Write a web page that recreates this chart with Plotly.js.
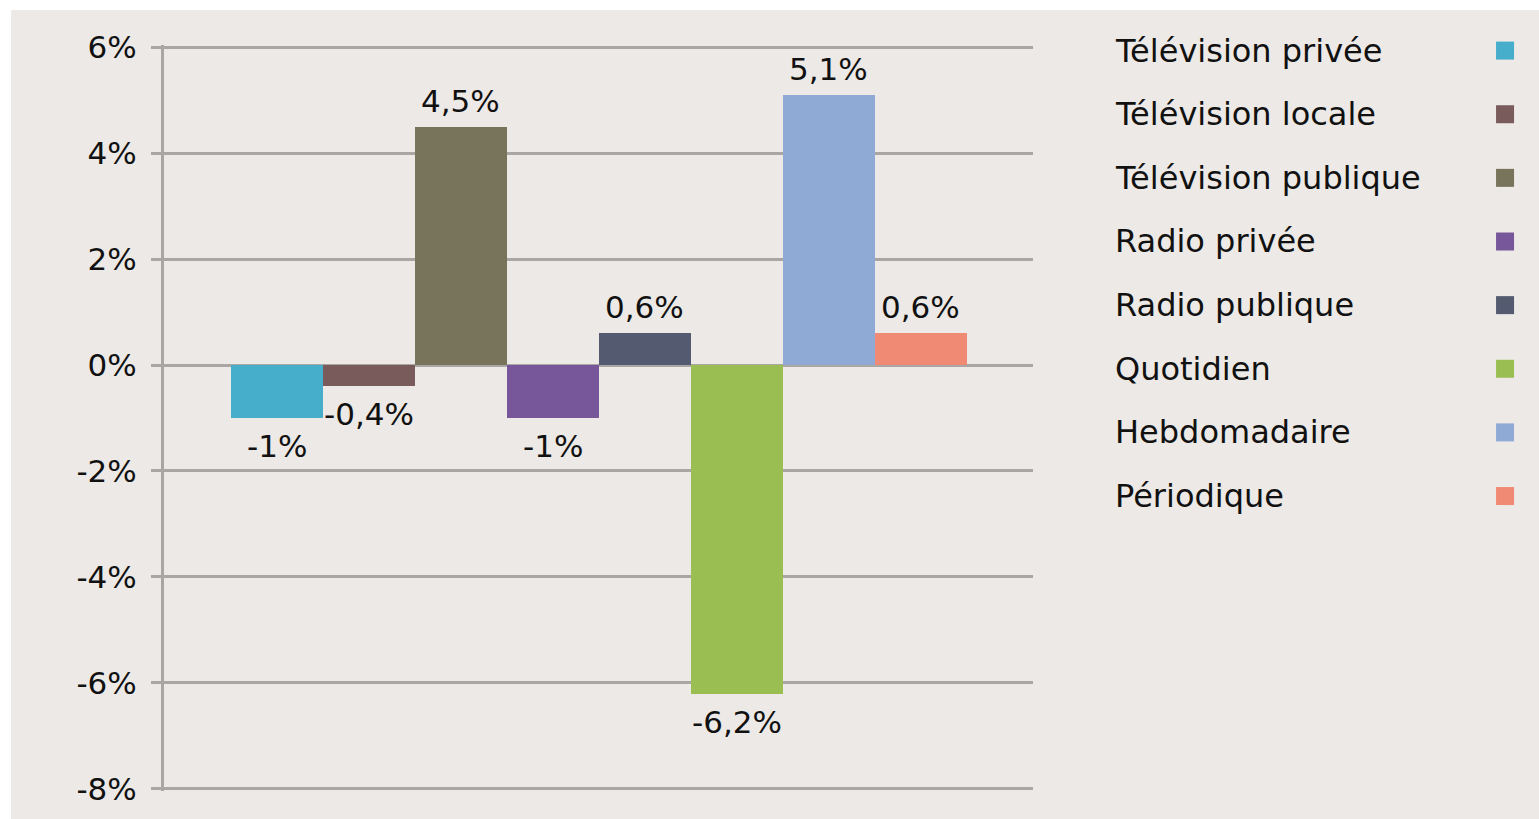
<!DOCTYPE html>
<html>
<head>
<meta charset="utf-8">
<script src="https://cdn.plot.ly/plotly-3.0.1.min.js"></script>
<style>
  body { margin: 0; background: #ffffff; }
  #chart { position: absolute; left: 11px; top: 10px; width: 1528px; height: 809px; }
</style>
</head>
<body>
<div id="chart"></div>
<script>
const media = ['Télévision privée', 'Télévision locale', 'Télévision publique', 'Radio privée',
    'Radio publique', 'Quotidien', 'Hebdomadaire', 'Périodique'];
const changes = [-1, -0.4, 4.5, -1, 0.6, -6.2, 5.1, 0.6];
const changeLabels = ['-1%', '-0,4%', '4,5%', '-1%', '0,6%', '-6,2%', '5,1%', '0,6%'];
const colors = ['#46adca', '#7a5b5c', '#77745b', '#78569a', '#545b71', '#9bbe52', '#90aad6', '#f08a74'];
const tickValues = [6, 4, 2, 0, -2, -4, -6, -8];
const tickLabels = ['6%', '4%', '2%', '0%', '-2%', '-4%', '-6%', '-8%'];

const gridColor = '#a9a6a3';
const font = 'DejaVu Sans, Arial, sans-serif';

const bars = {
    type: 'bar',
    x: media,
    y: changes,
    marker: {color: colors},
    hoverinfo: 'skip'
};

// value labels above / below each bar
const annotations = media.map((name, i) => ({
    xref: 'x', yref: 'y', x: name, y: changes[i],
    xanchor: 'center', yanchor: changes[i] >= 0 ? 'bottom' : 'top',
    yshift: changes[i] >= 0 ? 6 : -8,
    showarrow: false,
    text: changeLabels[i],
    font: {family: font, size: 31, color: '#111111'}
}));

// legend drawn by hand: text on the left, square on the right
const shapes = [];
const rowTop = 0.9925;
const rowStep = 0.0853;
media.forEach((name, i) => {
    const yy = rowTop - i * rowStep;
    annotations.push({
        xref: 'paper', yref: 'paper', x: 1.0921, y: yy,
        xanchor: 'left', yanchor: 'middle', showarrow: false,
        text: name, font: {family: font, size: 32, color: '#111111'}
    });
    shapes.push({
        type: 'rect', xref: 'paper', yref: 'paper',
        xsizemode: 'pixel', ysizemode: 'pixel',
        xanchor: 1.5432, yanchor: yy, x0: -9, x1: 9, y0: -9, y1: 9,
        fillcolor: colors[i], line: {width: 0}
    });
});

const layout = {
    bargap: 0,
    showlegend: false,
    paper_bgcolor: '#ece9e6',
    plot_bgcolor: '#ece9e6',
    margin: {l: 153, r: 506, t: 35, b: 28},
    font: {family: font, color: '#111111'},
    xaxis: {
        type: 'category',
        range: [-1.228, 8.218],
        showticklabels: false,
        showgrid: false,
        zeroline: false,
        ticks: ''
    },
    yaxis: {
        range: [-8.04, 6.04],
        tickvals: tickValues,
        ticktext: tickLabels,
        tickfont: {family: font, size: 31, color: '#111111'},
        showgrid: true,
        gridcolor: gridColor,
        gridwidth: 3,
        zeroline: true,
        zerolinecolor: gridColor,
        zerolinewidth: 3,
        showline: true,
        linecolor: gridColor,
        linewidth: 3,
        ticks: 'outside',
        ticklen: 10,
        tickwidth: 3,
        tickcolor: gridColor,
        ticklabelstandoff: 8
    },
    annotations: annotations,
    shapes: shapes
};

Plotly.newPlot('chart', [bars], layout, {displayModeBar: false, staticPlot: true});
</script>
</body>
</html>
